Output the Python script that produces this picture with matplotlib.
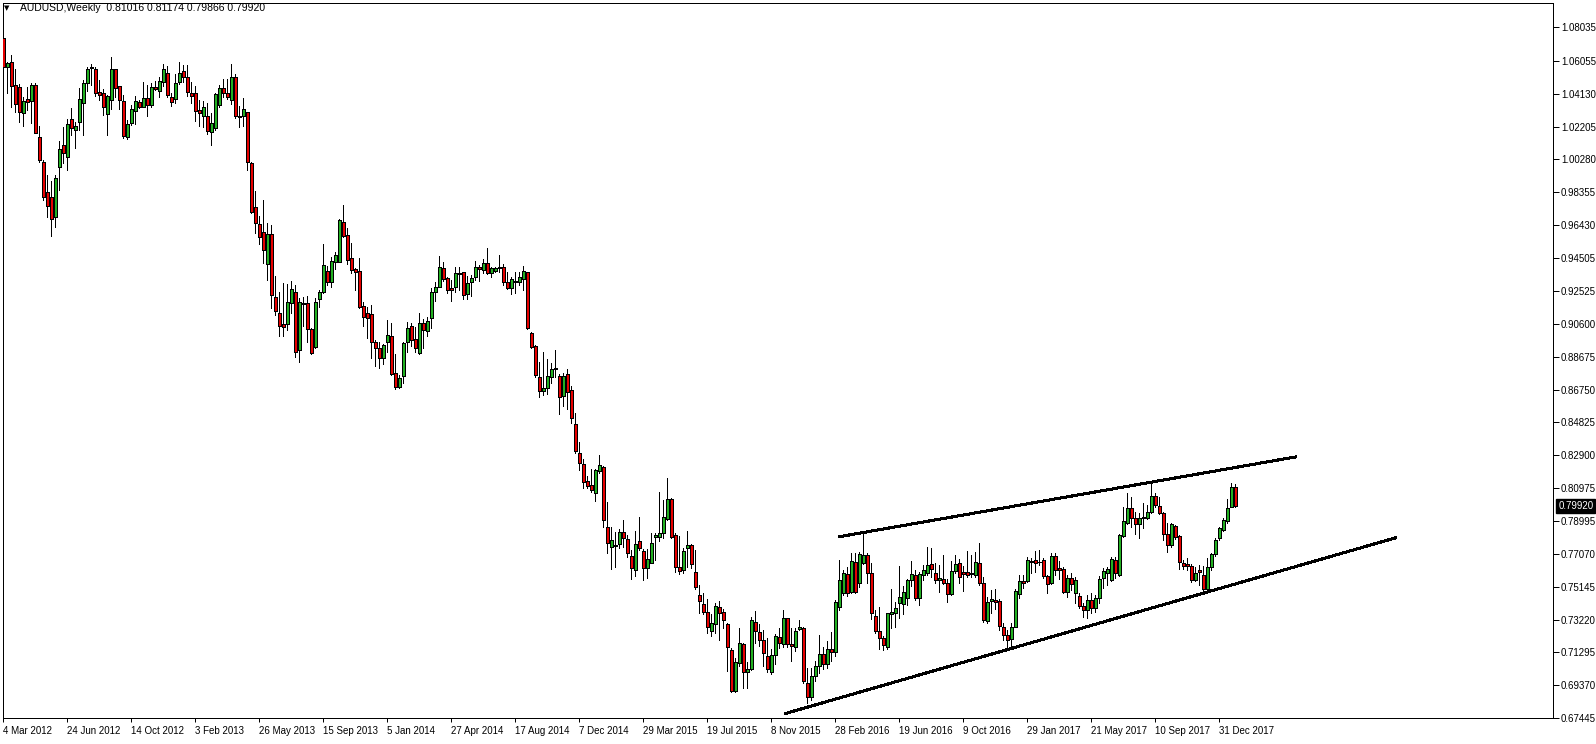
import numpy as np
import matplotlib
matplotlib.use("Agg")
import matplotlib.pyplot as plt

# weekly AUDUSD bars, 4 Mar 2012 .. 28 Jan 2018 (one value per week)
opens = [
    1.0740, 1.0573, 1.0599, 1.0466, 1.0454, 1.0299, 1.0383, 1.0374, 1.0466, 1.0158,
    1.0011, 0.9834, 0.9805, 0.9691, 0.9985, 1.0111, 1.0044, 1.0264, 1.0201, 1.0250,
    1.0362, 1.0479, 1.0573, 1.0558, 1.0422, 1.0420, 1.0293, 1.0377, 1.0558, 1.0460,
    1.0371, 1.0158, 1.0244, 1.0315, 1.0364, 1.0338, 1.0391, 1.0348, 1.0456, 1.0432,
    1.0485, 1.0538, 1.0397, 1.0381, 1.0485, 1.0548, 1.0510, 1.0416, 1.0416, 1.0318,
    1.0285, 1.0285, 1.0191, 1.0215, 1.0348, 1.0446, 1.0420, 1.0377, 1.0510, 1.0283,
    1.0285, 1.0309, 1.0005, 0.9746, 0.9646, 0.9603, 0.9411, 0.9588, 0.9217, 0.9123,
    0.9060, 0.9058, 0.9182, 0.9247, 0.8908, 0.9182, 0.9182, 0.9029, 0.8927, 0.9205,
    0.9247, 0.9372, 0.9309, 0.9427, 0.9427, 0.9658, 0.9584, 0.9446, 0.9384, 0.9372,
    0.9166, 0.9123, 0.9119, 0.8957, 0.8917, 0.8859, 0.8953, 0.8992, 0.8770, 0.8692,
    0.8757, 0.8953, 0.9049, 0.8970, 0.8892, 0.9064, 0.9021, 0.9094, 0.9247, 0.9280,
    0.9388, 0.9329, 0.9270, 0.9276, 0.9358, 0.9364, 0.9237, 0.9305, 0.9335, 0.9393,
    0.9378, 0.9417, 0.9358, 0.9374, 0.9388, 0.9393, 0.9305, 0.9274, 0.9305, 0.9305,
    0.9323, 0.9364, 0.9010, 0.8931, 0.8751, 0.8668, 0.8682, 0.8751, 0.8800, 0.8755,
    0.8637, 0.8766, 0.8672, 0.8473, 0.8300, 0.8237, 0.8137, 0.8114, 0.8069, 0.8198,
    0.8222, 0.7869, 0.7751, 0.7761, 0.7767, 0.7836, 0.7796, 0.7697, 0.7614, 0.7785,
    0.7726, 0.7624, 0.7657, 0.7806, 0.7810, 0.7830, 0.7912, 0.8030, 0.7820, 0.7634,
    0.7614, 0.7742, 0.7761, 0.7600, 0.7467, 0.7414, 0.7365, 0.7258, 0.7297, 0.7399,
    0.7369, 0.7297, 0.7144, 0.6905, 0.7065, 0.7179, 0.7013, 0.7032, 0.7307, 0.7248,
    0.7203, 0.7109, 0.7017, 0.7115, 0.7222, 0.7179, 0.7330, 0.7179, 0.7160, 0.7265,
    0.7271, 0.6948, 0.6870, 0.6993, 0.7050, 0.7120, 0.7060, 0.7150, 0.7130, 0.7399,
    0.7481, 0.7591, 0.7487, 0.7663, 0.7536, 0.7653, 0.7702, 0.7595, 0.7344, 0.7254,
    0.7214, 0.7163, 0.7354, 0.7363, 0.7422, 0.7412, 0.7448, 0.7555, 0.7585, 0.7448,
    0.7583, 0.7599, 0.7649, 0.7595, 0.7553, 0.7559, 0.7536, 0.7473, 0.7608, 0.7653,
    0.7604, 0.7604, 0.7591, 0.7585, 0.7657, 0.7536, 0.7316, 0.7432, 0.7438, 0.7432,
    0.7277, 0.7230, 0.7210, 0.7281, 0.7473, 0.7549, 0.7549, 0.7667, 0.7673, 0.7659,
    0.7673, 0.7579, 0.7536, 0.7696, 0.7624, 0.7618, 0.7487, 0.7565, 0.7477, 0.7461,
    0.7402, 0.7379, 0.7440, 0.7390, 0.7450, 0.7565, 0.7595, 0.7555, 0.7673, 0.7585,
    0.7814, 0.7892, 0.7977, 0.7918, 0.7885, 0.7918, 0.7918, 0.7957, 0.8049, 0.7990,
    0.7947, 0.7826, 0.7761, 0.7873, 0.7814, 0.7657, 0.7649, 0.7638, 0.7555, 0.7614,
    0.7585, 0.7501, 0.7630, 0.7706, 0.7800, 0.7849, 0.7904, 0.7987, 0.81016,
]
highs = [
    1.0750, 1.0603, 1.0642, 1.0557, 1.0471, 1.0397, 1.0456, 1.0479, 1.0475, 1.0224,
    1.0025, 0.9936, 0.9901, 0.9936, 1.0138, 1.0220, 1.0264, 1.0328, 1.0250, 1.0446,
    1.0495, 1.0573, 1.0587, 1.0573, 1.0495, 1.0440, 1.0405, 1.0628, 1.0560, 1.0462,
    1.0407, 1.0260, 1.0348, 1.0401, 1.0380, 1.0481, 1.0465, 1.0479, 1.0491, 1.0514,
    1.0589, 1.0577, 1.0420, 1.0530, 1.0599, 1.0583, 1.0583, 1.0481, 1.0460, 1.0377,
    1.0371, 1.0358, 1.0303, 1.0420, 1.0465, 1.0501, 1.0500, 1.0589, 1.0530, 1.0342,
    1.0387, 1.0309, 1.0015, 0.9844, 0.9697, 0.9789, 0.9652, 0.9640, 0.9343, 0.9247,
    0.9299, 0.9294, 0.9315, 0.9290, 0.9215, 0.9221, 0.9227, 0.9035, 0.9215, 0.9260,
    0.9531, 0.9401, 0.9456, 0.9486, 0.9676, 0.9760, 0.9623, 0.9538, 0.9388, 0.9446,
    0.9192, 0.9162, 0.9172, 0.8966, 0.8957, 0.8943, 0.9084, 0.9064, 0.8882, 0.8761,
    0.8957, 0.9070, 0.9064, 0.9045, 0.9127, 0.9090, 0.9100, 0.9270, 0.9309, 0.9460,
    0.9423, 0.9335, 0.9319, 0.9394, 0.9397, 0.9368, 0.9343, 0.9348, 0.9433, 0.9407,
    0.9441, 0.9505, 0.9397, 0.9397, 0.9466, 0.9413, 0.9368, 0.9335, 0.9368, 0.9368,
    0.9401, 0.9368, 0.9015, 0.8937, 0.8839, 0.8894, 0.8855, 0.8833, 0.8908, 0.8766,
    0.8774, 0.8794, 0.8696, 0.8535, 0.8369, 0.8265, 0.8167, 0.8206, 0.8206, 0.8290,
    0.8226, 0.8016, 0.7865, 0.7840, 0.7853, 0.7908, 0.7820, 0.7732, 0.7844, 0.7928,
    0.7736, 0.7736, 0.7834, 0.7830, 0.8075, 0.8026, 0.8153, 0.8036, 0.7830, 0.7814,
    0.7742, 0.7843, 0.7767, 0.7732, 0.7526, 0.7477, 0.7442, 0.7356, 0.7418, 0.7432,
    0.7383, 0.7305, 0.7154, 0.7095, 0.7271, 0.7187, 0.7075, 0.7340, 0.7375, 0.7297,
    0.7262, 0.7213, 0.7150, 0.7236, 0.7271, 0.7379, 0.7332, 0.7271, 0.7271, 0.7320,
    0.7277, 0.7036, 0.7036, 0.7080, 0.7232, 0.7160, 0.7197, 0.7250, 0.7438, 0.7673,
    0.7614, 0.7634, 0.7712, 0.7716, 0.7722, 0.7830, 0.7712, 0.7653, 0.7379, 0.7395,
    0.7224, 0.7360, 0.7501, 0.7428, 0.7638, 0.7520, 0.7559, 0.7667, 0.7614, 0.7604,
    0.7644, 0.7747, 0.7741, 0.7653, 0.7644, 0.7702, 0.7559, 0.7667, 0.7702, 0.7677,
    0.7638, 0.7726, 0.7702, 0.7722, 0.7771, 0.7571, 0.7457, 0.7497, 0.7500, 0.7442,
    0.7300, 0.7260, 0.7300, 0.7501, 0.7585, 0.7585, 0.7688, 0.7683, 0.7726, 0.7732,
    0.7686, 0.7585, 0.7712, 0.7712, 0.7669, 0.7634, 0.7585, 0.7598, 0.7575, 0.7477,
    0.7420, 0.7467, 0.7480, 0.7467, 0.7576, 0.7624, 0.7630, 0.7688, 0.7692, 0.7826,
    0.7987, 0.8065, 0.8041, 0.7957, 0.7947, 0.8006, 0.7996, 0.8134, 0.8065, 0.8045,
    0.7957, 0.7889, 0.7893, 0.7879, 0.7820, 0.7673, 0.7683, 0.7649, 0.7634, 0.7644,
    0.7638, 0.7683, 0.7712, 0.7800, 0.7869, 0.7918, 0.8030, 0.8128, 0.81174,
]
lows = [
    1.0510, 1.0420, 1.0334, 1.0305, 1.0250, 1.0225, 1.0319, 1.0244, 1.0181, 1.0015,
    0.9789, 0.9688, 0.9578, 0.9633, 0.9848, 1.0009, 0.9966, 1.0172, 1.0097, 1.0201,
    1.0172, 1.0432, 1.0466, 1.0401, 1.0377, 1.0289, 1.0172, 1.0322, 1.0397, 1.0322,
    1.0152, 1.0150, 1.0230, 1.0236, 1.0330, 1.0334, 1.0285, 1.0338, 1.0436, 1.0393,
    1.0460, 1.0397, 1.0342, 1.0361, 1.0471, 1.0485, 1.0401, 1.0361, 1.0256, 1.0225,
    1.0221, 1.0175, 1.0113, 1.0201, 1.0338, 1.0393, 1.0381, 1.0352, 1.0270, 1.0221,
    1.0225, 0.9966, 0.9711, 0.9593, 0.9529, 0.9421, 0.9319, 0.9155, 0.9113, 0.8992,
    0.8992, 0.9025, 0.9123, 0.8865, 0.8839, 0.9049, 0.8957, 0.8884, 0.8917, 0.9162,
    0.9241, 0.9290, 0.9276, 0.9384, 0.9427, 0.9570, 0.9413, 0.9358, 0.9260, 0.9152,
    0.9049, 0.8976, 0.8859, 0.8816, 0.8800, 0.8825, 0.8898, 0.8761, 0.8676, 0.8682,
    0.8712, 0.8898, 0.8931, 0.8898, 0.8884, 0.8917, 0.8990, 0.9035, 0.9198, 0.9276,
    0.9315, 0.9245, 0.9198, 0.9247, 0.9260, 0.9205, 0.9205, 0.9225, 0.9319, 0.9315,
    0.9362, 0.9352, 0.9335, 0.9368, 0.9368, 0.9290, 0.9264, 0.9237, 0.9241, 0.9290,
    0.9260, 0.9029, 0.8917, 0.8751, 0.8633, 0.8643, 0.8649, 0.8712, 0.8751, 0.8531,
    0.8578, 0.8559, 0.8476, 0.8304, 0.8202, 0.8094, 0.8098, 0.8075, 0.8022, 0.8183,
    0.7869, 0.7712, 0.7618, 0.7630, 0.7742, 0.7751, 0.7692, 0.7559, 0.7581, 0.7732,
    0.7555, 0.7565, 0.7653, 0.7673, 0.7787, 0.7800, 0.7908, 0.7800, 0.7604, 0.7591,
    0.7595, 0.7634, 0.7624, 0.7503, 0.7360, 0.7356, 0.7246, 0.7226, 0.7246, 0.7203,
    0.7271, 0.7023, 0.6895, 0.6899, 0.7052, 0.6922, 0.6918, 0.7026, 0.7187, 0.7169,
    0.7050, 0.7013, 0.7003, 0.7060, 0.7158, 0.7160, 0.7160, 0.7081, 0.7140, 0.7262,
    0.6948, 0.6830, 0.6850, 0.6960, 0.7010, 0.7030, 0.7040, 0.7080, 0.7110, 0.7379,
    0.7467, 0.7461, 0.7481, 0.7477, 0.7516, 0.7649, 0.7540, 0.7324, 0.7242, 0.7150,
    0.7145, 0.7150, 0.7271, 0.7277, 0.7330, 0.7356, 0.7410, 0.7520, 0.7438, 0.7409,
    0.7555, 0.7585, 0.7575, 0.7536, 0.7487, 0.7532, 0.7428, 0.7467, 0.7594, 0.7540,
    0.7493, 0.7571, 0.7575, 0.7575, 0.7526, 0.7310, 0.7300, 0.7359, 0.7383, 0.7261,
    0.7200, 0.7160, 0.7160, 0.7277, 0.7448, 0.7506, 0.7542, 0.7594, 0.7604, 0.7643,
    0.7565, 0.7481, 0.7532, 0.7585, 0.7559, 0.7477, 0.7457, 0.7497, 0.7418, 0.7389,
    0.7340, 0.7330, 0.7360, 0.7370, 0.7420, 0.7506, 0.7526, 0.7551, 0.7565, 0.7579,
    0.7810, 0.7885, 0.7869, 0.7826, 0.7800, 0.7859, 0.7912, 0.7947, 0.7987, 0.7943,
    0.7791, 0.7722, 0.7751, 0.7794, 0.7618, 0.7618, 0.7614, 0.7546, 0.7551, 0.7526,
    0.7493, 0.7493, 0.7614, 0.7696, 0.7790, 0.7845, 0.7892, 0.7987, 0.79866,
]
closes = [
    1.0573, 1.0597, 1.0462, 1.0354, 1.0309, 1.0371, 1.0368, 1.0466, 1.0181, 1.0025,
    0.9809, 0.9756, 0.9678, 0.9917, 1.0087, 1.0068, 1.0234, 1.0215, 1.0225, 1.0381,
    1.0479, 1.0558, 1.0567, 1.0420, 1.0407, 1.0334, 1.0401, 1.0558, 1.0446, 1.0377,
    1.0166, 1.0234, 1.0322, 1.0371, 1.0338, 1.0387, 1.0348, 1.0456, 1.0440, 1.0491,
    1.0558, 1.0407, 1.0367, 1.0479, 1.0534, 1.0510, 1.0426, 1.0403, 1.0315, 1.0299,
    1.0334, 1.0197, 1.0240, 1.0412, 1.0446, 1.0420, 1.0397, 1.0514, 1.0285, 1.0279,
    1.0322, 1.0011, 0.9721, 0.9652, 0.9570, 0.9496, 0.9588, 0.9229, 0.9139, 0.9051,
    0.9045, 0.9188, 0.9266, 0.8894, 0.9188, 0.9176, 0.9029, 0.8892, 0.9188, 0.9247,
    0.9407, 0.9309, 0.9431, 0.9466, 0.9672, 0.9580, 0.9437, 0.9378, 0.9368, 0.9162,
    0.9104, 0.9098, 0.8953, 0.8917, 0.8859, 0.8937, 0.8996, 0.8765, 0.8692, 0.8745,
    0.8951, 0.9035, 0.8966, 0.8917, 0.9064, 0.9025, 0.9078, 0.9247, 0.9280, 0.9394,
    0.9323, 0.9260, 0.9260, 0.9358, 0.9352, 0.9231, 0.9303, 0.9329, 0.9397, 0.9382,
    0.9421, 0.9362, 0.9388, 0.9388, 0.9397, 0.9305, 0.9274, 0.9323, 0.9313, 0.9335,
    0.9374, 0.9035, 0.8923, 0.8761, 0.8667, 0.8682, 0.8757, 0.8794, 0.8794, 0.8629,
    0.8755, 0.8663, 0.8506, 0.8316, 0.8245, 0.8134, 0.8110, 0.8084, 0.8202, 0.8231,
    0.7908, 0.7775, 0.7791, 0.7755, 0.7840, 0.7804, 0.7712, 0.7624, 0.7765, 0.7742,
    0.7624, 0.7677, 0.7771, 0.7820, 0.7830, 0.7924, 0.8030, 0.7806, 0.7634, 0.7610,
    0.7726, 0.7761, 0.7648, 0.7516, 0.7434, 0.7369, 0.7277, 0.7301, 0.7403, 0.7363,
    0.7320, 0.7160, 0.6905, 0.7071, 0.7183, 0.7017, 0.7030, 0.7320, 0.7258, 0.7203,
    0.7124, 0.7032, 0.7115, 0.7226, 0.7183, 0.7330, 0.7179, 0.7169, 0.7258, 0.7281,
    0.6964, 0.6870, 0.6993, 0.7050, 0.7120, 0.7060, 0.7150, 0.7130, 0.7428, 0.7555,
    0.7599, 0.7481, 0.7669, 0.7487, 0.7708, 0.7702, 0.7595, 0.7360, 0.7258, 0.7214,
    0.7173, 0.7360, 0.7369, 0.7389, 0.7454, 0.7487, 0.7555, 0.7591, 0.7448, 0.7591,
    0.7614, 0.7644, 0.7618, 0.7553, 0.7565, 0.7536, 0.7473, 0.7608, 0.7647, 0.7575,
    0.7591, 0.7585, 0.7598, 0.7663, 0.7536, 0.7320, 0.7424, 0.7442, 0.7428, 0.7285,
    0.7230, 0.7200, 0.7281, 0.7491, 0.7549, 0.7536, 0.7673, 0.7663, 0.7657, 0.7663,
    0.7581, 0.7530, 0.7696, 0.7614, 0.7614, 0.7487, 0.7565, 0.7532, 0.7555, 0.7402,
    0.7379, 0.7440, 0.7390, 0.7450, 0.7560, 0.7608, 0.7620, 0.7677, 0.7595, 0.7820,
    0.7904, 0.7977, 0.7918, 0.7885, 0.7918, 0.7924, 0.7957, 0.8049, 0.7996, 0.7951,
    0.7826, 0.7761, 0.7885, 0.7806, 0.7663, 0.7638, 0.7638, 0.7555, 0.7599, 0.7604,
    0.7501, 0.7630, 0.7706, 0.7790, 0.7859, 0.7908, 0.7977, 0.8100, 0.79920,
]

date_labels = ["4 Mar 2012", "24 Jun 2012", "14 Oct 2012", "3 Feb 2013", "26 May 2013",
               "15 Sep 2013", "5 Jan 2014", "27 Apr 2014", "17 Aug 2014", "7 Dec 2014",
               "29 Mar 2015", "19 Jul 2015", "8 Nov 2015", "28 Feb 2016", "19 Jun 2016",
               "9 Oct 2016", "29 Jan 2017", "21 May 2017", "10 Sep 2017", "31 Dec 2017"]
price_ticks = [1.08035, 1.06055, 1.04130, 1.02205, 1.00280, 0.98355, 0.96430, 0.94505,
               0.92525, 0.90600, 0.88675, 0.86750, 0.84825, 0.82900, 0.80975, 0.78995,
               0.77070, 0.75145, 0.73220, 0.71295, 0.69370, 0.67445]

# hand drawn trend lines (bar index, price)
upper_x, upper_y = [209.0, 323.1], [0.7810, 0.8279]
lower_x, lower_y = [195.6, 348.0], [0.6771, 0.7803]

FONT = "Liberation Sans"
PX = 0.72  # one pixel in points at dpi 100

o = np.array(opens); h = np.array(highs); l = np.array(lows); c = np.array(closes)
x = np.arange(len(c))
up = c >= o
colors = np.where(up, "#22b022", "#e60000")

fig = plt.figure(figsize=(15.96, 7.44), dpi=100)
ax = fig.add_axes([2.7 / 1596, 26 / 744, 1550 / 1596, 715 / 744])

ax.vlines(x, l, h, colors="black", linewidth=PX, antialiased=False, zorder=2)
ax.bar(x, np.abs(c - o), bottom=np.minimum(o, c), width=0.62, color=colors,
       edgecolor="black", linewidth=PX, antialiased=False, zorder=3)

ax.plot(upper_x, upper_y, color="black", linewidth=2 * PX, antialiased=False, zorder=4)
ax.plot(lower_x, lower_y, color="black", linewidth=2 * PX, antialiased=False, zorder=4)

ax.set_xlim(-0.15, 387.35)
ax.set_ylim(0.67441, 1.09475)

for s in ax.spines.values():
    s.set_linewidth(PX)
    s.set_color("black")

ax.yaxis.tick_right()
ax.set_yticks(price_ticks)
ax.set_yticklabels(["%.5f" % p for p in price_ticks], fontfamily=FONT, fontsize=7)
ax.tick_params(axis="y", direction="out", length=4, width=PX, pad=2)

ax.set_xticks(range(0, 16 * len(date_labels), 16))
ax.set_xticklabels(date_labels, fontfamily=FONT, fontsize=7, ha="left")
ax.tick_params(axis="x", direction="out", length=3, width=PX, pad=3)

# current price marker on the price scale
ax.annotate("%.5f" % c[-1], xy=(1, c[-1]), xycoords=("axes fraction", "data"),
            xytext=(4, 0), textcoords="offset points", ha="left", va="center",
            color="white", fontsize=7, fontfamily=FONT,
            bbox=dict(boxstyle="square,pad=0.2", fc="black", ec="black"))

# header
fig.text(4 / 1596, 1 - 8 / 744, "\u25bc", fontsize=5, va="center", ha="left")
fig.text(20 / 1596, 1 - 8 / 744,
         "AUDUSD,Weekly  %.5f %.5f %.5f %.5f" % (o[-1], h[-1], l[-1], c[-1]),
         fontsize=7.5, fontfamily=FONT, va="center", ha="left")

fig.savefig("out.png", dpi=100, facecolor="white")
